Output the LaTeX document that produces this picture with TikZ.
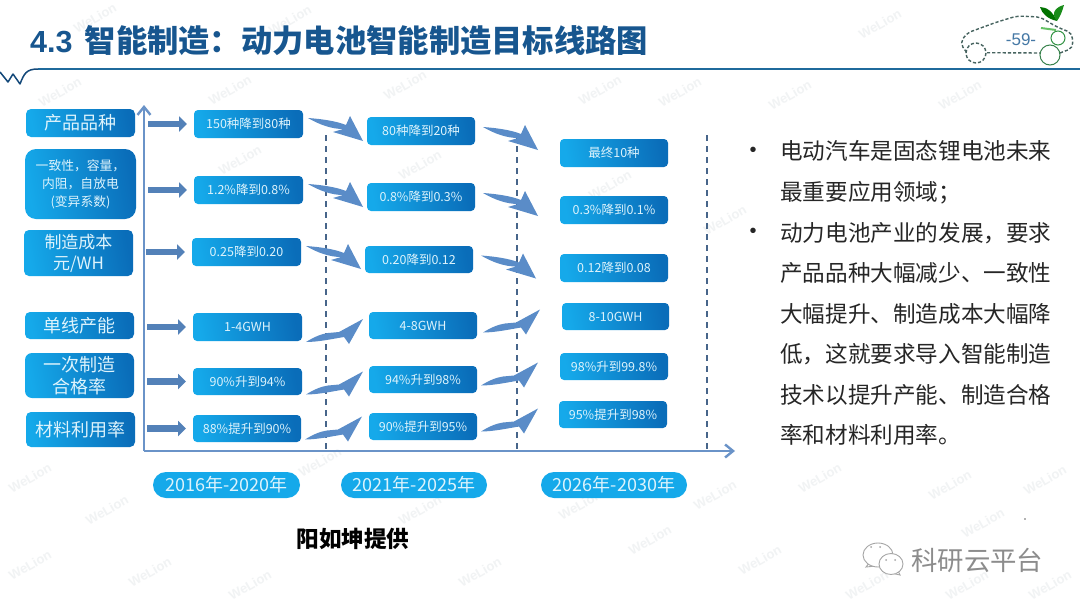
\documentclass[tikz,border=0pt]{standalone}
\usepackage{fontspec}
\setmainfont{Noto Sans CJK SC}
\newfontfamily\latinfont{Liberation Sans}
\usetikzlibrary{arrows.meta,calc}
\definecolor{boxlight}{HTML}{15A9EA}
\definecolor{boxmid}{HTML}{109BDD}
\definecolor{boxdark}{HTML}{0A6DB9}
\definecolor{boxtext}{HTML}{DDF3FC}
\definecolor{axisblue}{HTML}{6A93C8}
\definecolor{swoop}{HTML}{5A8CC8}
\definecolor{dashblue}{HTML}{47658A}
\definecolor{titleblue}{HTML}{17568F}
\definecolor{rule}{HTML}{1F6A9C}
\definecolor{wmark}{HTML}{F1F3F4}
\definecolor{cargray}{HTML}{46635F}
\tikzset{
  x=1pt,y=-1pt,
  gradbox/.style={left color=boxlight,middle color=boxmid,right color=boxdark,shading angle=100,
    draw=none,text=boxtext,inner sep=0pt,outer sep=0pt,align=center},
  stagebox/.style={gradbox,rounded corners=4pt,font=\fontsize{12.5}{15}\selectfont},
  labelbox/.style={gradbox,rounded corners=5pt,font=\fontsize{18}{23}\selectfont},
  yearpill/.style={fill=boxlight,text=boxtext,rounded corners=13pt,inner sep=0pt,outer sep=0pt,
    font=\fontsize{18}{20}\selectfont},
  blockarrow/.style={draw=swoop!92!black,line width=6.5pt,-{Triangle[length=8pt,width=15pt]}},
  axisline/.style={draw=axisblue,line width=2.4pt,-{Straight Barb[length=8pt,width=13pt,line width=2.4pt]}},
  dashline/.style={draw=dashblue,line width=1.6pt,dash pattern=on 6pt off 5pt},
  bodytext/.style={text=black!85,align=left,inner sep=0pt,anchor=west,font=\fontsize{22.6}{40.5}\selectfont},
  bulletmark/.style={text=black!85,inner sep=0pt,font=\latinfont\fontsize{20}{22}\selectfont},
  wmtext/.style={text=wmark,rotate=30,inner sep=0pt,font=\latinfont\bfseries\fontsize{13}{15}\selectfont},
  swoopdown/.pic={\fill[swoop] (0,0) .. controls (14,1) and (28,3) .. (38,7) -- (42,-2) -- (55,23) -- (25,14) -- (35,11) .. controls (24,11) and (12,7) .. (0,0) -- cycle;},
  swoopup/.pic={\fill[swoop] (0,0) .. controls (8,-5) and (15,-8) .. (22,-9) -- (33,-10) -- (57,-23) -- (43,2) -- (38,-5) .. controls (26,-3) and (12,0) .. (0,0) -- cycle;},
}
\newcommand{\bx}[7]{\node[#6,minimum width={(#4-#2)*1pt},minimum height={(#5-#3)*1pt}] (#1) at ({(#2+#4)/2},{(#3+#5)/2}) {#7};}
\begin{document}
\begin{tikzpicture}
\useasboundingbox (0,0) rectangle (1080,608);
\fill[white] (0,0) rectangle (1080,608);
% watermark
\foreach \xx/\yy [count=\k] in {95/18,290/20,680/92,880/24,60/92,230/90,405/85,600/90,790/95,960/95,
  240/160,420/165,610/185,725/220,
  30/478,107/510,320/462,420/510,580/505,715/495,820/478,950/485,1045/480,
  983/523,867/585,967/585,1050/585,30/565,150/572,250/585,480/572,650/540,760/560}{
  \node[wmtext] (wm\k) at (\xx,\yy) {WeLion};
}
% title
\node[anchor=west,inner sep=0pt,text=titleblue,font=\bfseries\fontsize{31.3}{34}\selectfont] (title) at (30,41) {{\latinfont\bfseries\fontsize{30.5}{34}\selectfont 4.3}\hspace{5pt} 智能制造：动力电池智能制造目标线路图};
% header rule
\coordinate (ruleA) at (38,69); \coordinate (ruleB) at (1080,69);
\draw[rule,line width=1.4pt] (ruleA) -- (ruleB);
\draw[titleblue!85!black,line width=1.5pt,line join=round] (0,72) -- (8,82) -- (13,74) -- (20,84) .. controls (24,74) and (26,69) .. (ruleA);
% car badge
\draw[cargray,line width=1.4pt,dash pattern=on 3.2pt off 2pt,rounded corners=5pt]
  (987,52.7) -- (1040,53) (1060,53) -- (1073,48) -- (1072,33) -- (1057,27) -- (1040,17) -- (1017,16) -- (997,22) -- (967,33) -- (960,43) -- (967,53);
\draw[cargray,line width=1.4pt,dash pattern=on 3.2pt off 2pt] (976,53) circle (10);
\draw[cargray!80!green,line width=1pt] (1050,55) circle (10);
\draw[cargray!70!green,line width=1pt] (1058,38) circle (7);
\fill[green!45!black] (1040,7) .. controls (1047,7) and (1053,12) .. (1057,21) .. controls (1048,19) and (1042,14) .. (1040,7);
\fill[green!50!black!90] (1064,5) .. controls (1062,12) and (1060,17) .. (1057,21) .. controls (1050,13) and (1056,7) .. (1064,5);
\draw[green!60!black!60,line width=2pt] (1041,28) -- (1056,30);
\node[inner sep=0pt,text=titleblue!80,font=\latinfont\fontsize{17}{19}\selectfont] (pageno) at (1021,40) {-59-};
% axes
\coordinate (origin) at (144,451); \coordinate (ytop) at (144,105); \coordinate (xend) at (735,451);
\draw[axisline] (origin) -- (ytop);
\draw[axisline] (origin) -- (xend);
\foreach \n/\xx in {d1/326,d2/517,d3/707}{
  \coordinate (\n t) at (\xx,135); \coordinate (\n b) at (\xx,451);
  \draw[dashline] (\n t) -- (\n b);
}
% left labels
\bx{l1}{26}{109}{135}{137}{labelbox}{产品品种}
\bx{l2}{25}{149}{136}{219}{labelbox,rounded corners=11pt,font=\fontsize{12.8}{18}\selectfont}{一致性，容量，\\内阻，自放电\\(变异系数)}
\bx{l3}{24}{230}{133}{276}{labelbox,font=\fontsize{17}{21}\selectfont}{制造成本\\元/WH}
\bx{l4}{25}{312}{134}{339}{labelbox}{单线产能}
\bx{l5}{25}{353}{134}{398}{labelbox,rounded corners=7pt,font=\fontsize{18}{22}\selectfont}{一次制造\\合格率}
\bx{l6}{26}{412}{135}{447}{labelbox}{材料利用率}
% column 1
\bx{a1}{194}{110}{303}{138}{stagebox}{150种降到80种}
\bx{a2}{194}{176}{303}{204}{stagebox}{1.2\%降到0.8\%}
\bx{a3}{192}{238}{301}{266}{stagebox}{0.25降到0.20}
\bx{a4}{193}{313}{302}{341}{stagebox}{1-4GWH}
\bx{a5}{193}{368}{302}{395}{stagebox}{90\%升到94\%}
\bx{a6}{193}{415}{301}{442}{stagebox}{88\%提升到90\%}
% column 2
\bx{b1}{367}{117}{475}{145}{stagebox}{80种降到20种}
\bx{b2}{367}{183}{475}{211}{stagebox}{0.8\%降到0.3\%}
\bx{b3}{365}{246}{473}{273}{stagebox}{0.20降到0.12}
\bx{b4}{369}{312}{477}{339}{stagebox}{4-8GWH}
\bx{b5}{369}{366}{477}{393}{stagebox}{94\%升到98\%}
\bx{b6}{369}{413}{477}{440}{stagebox}{90\%提升到95\%}
% column 3
\bx{c1}{560}{139}{668}{167}{stagebox}{最终10种}
\bx{c2}{560}{196}{668}{224}{stagebox}{0.3\%降到0.1\%}
\bx{c3}{560}{254}{668}{282}{stagebox}{0.12降到0.08}
\bx{c4}{562}{303}{669}{330}{stagebox}{8-10GWH}
\bx{c5}{560}{353}{668}{380}{stagebox}{98\%升到99.8\%}
\bx{c6}{559}{401}{667}{428}{stagebox}{95\%提升到98\%}
% block arrows
\foreach \n in {a1,a2,a3,a4,a5,a6}{
  \draw[blockarrow] ($(\n.west)+(-46,0)$) -- ($(\n.west)+(-7,0)$);
}
% swooshes
\foreach \n in {a1,a2,a3}{\pic at ($(\n.east)+(5,-6)$) {swoopdown};}
\foreach \n in {b1,b2,b3}{\pic at ($(\n.east)+(8,-4)$) {swoopdown};}
\foreach \n/\dy in {a4/15,a5/13,a6/11}{\pic at ($(\n.east)+(4,\dy)$) {swoopup};}
\foreach \n/\dx/\dy in {b4/6/7,b5/4/6,b6/4/5}{\pic at ($(\n.east)+(\dx,\dy)$) {swoopup};}
% year pills
\bx{y1}{153}{472}{300}{498}{yearpill}{2016年-2020年}
\bx{y2}{341}{472}{487}{498}{yearpill}{2021年-2025年}
\bx{y3}{541}{472}{687}{498}{yearpill}{2026年-2030年}
% credit
\node[inner sep=0pt,text=black,font=\bfseries\fontsize{22.6}{25}\selectfont] (credit) at (353,539) {阳如坤提供};
% body text
\node[bulletmark] (bul1) at (753,152) {•};
\node[bulletmark] (bul2) at (753,233) {•};
\node[bodytext] (para1) at (780,172.5) {电动汽车是固态锂电池未来\\最重要应用领域；};
\node[bodytext] (para2) at (780,334) {动力电池产业的发展，要求\\产品品种大幅减少、一致性\\大幅提升、制造成本大幅降\\低，这就要求导入智能制造\\技术以提升产能、制造合格\\率和材料利用率。};
% bottom-right logo
\fill[black!60] (1025,519) circle (0.9);
\draw[black!35,line width=0.9pt,fill=white] (866,567) -- (870,562) -- (876,566) -- cycle;
\draw[black!35,line width=0.9pt,fill=white] (878,555) ellipse (15 and 12);
\draw[black!35,line width=0.9pt,fill=white] (900,575) -- (897,569) -- (891,573) -- cycle;
\draw[black!35,line width=0.9pt,fill=white] (891,564) ellipse (12 and 10.5);
\fill[black!35] (886,560) circle (1) (895,560) circle (1) (871,547) circle (1) (880,547) circle (1);
\node[anchor=west,inner sep=0pt,text=black!45,font=\fontsize{26.4}{29}\selectfont] (brand) at (911,560) {科研云平台};
\end{tikzpicture}
\end{document}
